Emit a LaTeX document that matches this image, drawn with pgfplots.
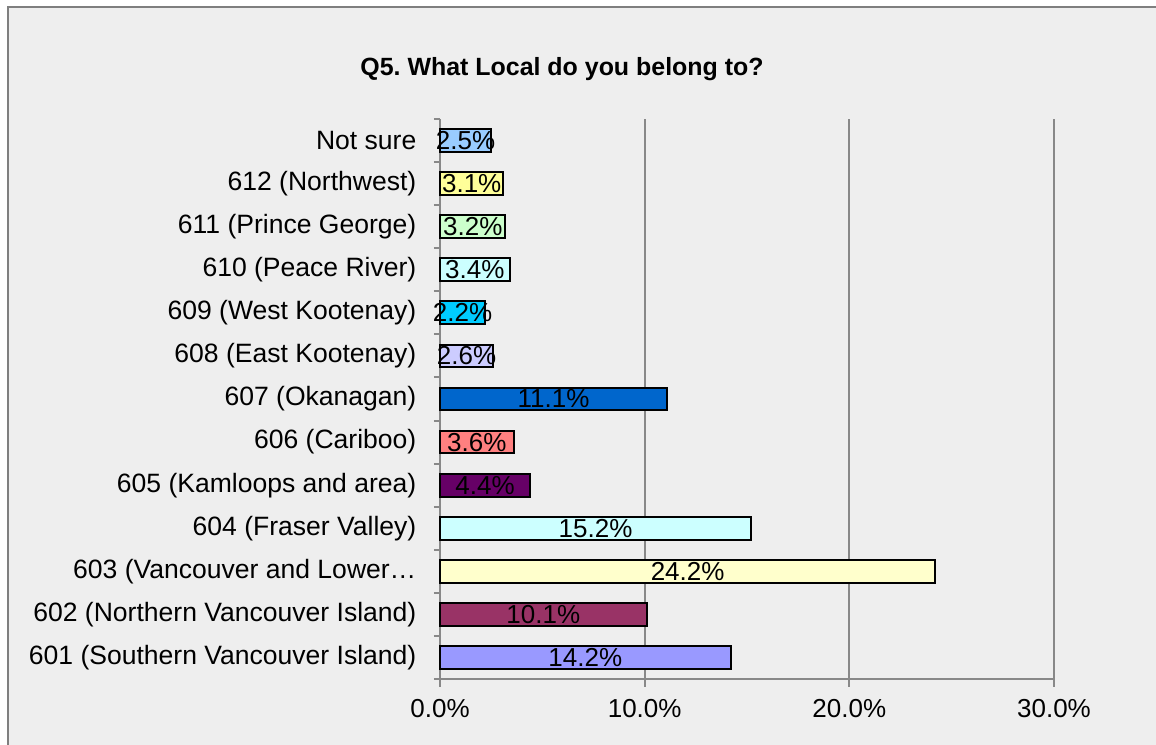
\documentclass[border=0pt]{standalone}
\usepackage{fontspec}
\setmainfont{Liberation Sans}
\usepackage{pgfplots}
\usepackage{pgfplotstable}
\pgfplotsset{compat=1.18}
\definecolor{bg}{HTML}{EEEEEE}
\definecolor{axgray}{HTML}{888888}
\definecolor{frame}{HTML}{7F7F7F}
\definecolor{c601}{HTML}{9999FF}
\definecolor{c602}{HTML}{993366}
\definecolor{c603}{HTML}{FFFFCC}
\definecolor{c604}{HTML}{CCFFFF}
\definecolor{c605}{HTML}{660066}
\definecolor{c606}{HTML}{FF8080}
\definecolor{c607}{HTML}{0066CC}
\definecolor{c608}{HTML}{CCCCFF}
\definecolor{c609}{HTML}{00CCFF}
\definecolor{c610}{HTML}{CCFFFF}
\definecolor{c611}{HTML}{CCFFCC}
\definecolor{c612}{HTML}{FFFF99}
\definecolor{cns}{HTML}{99CCFF}
\pgfplotstableread{
y v
1 14.2
2 10.1
3 24.2
4 15.2
5 4.4
6 3.6
7 11.1
8 2.6
9 2.2
10 3.4
11 3.2
12 3.1
13 2.5
}\data
\begin{document}
\frenchspacing
\begin{tikzpicture}
\useasboundingbox (0pt,0pt) rectangle (867pt,558.75pt);
\fill[white] (0pt,0pt) rectangle (867pt,558.75pt);
\draw[fill=bg, draw=frame, line width=1.5pt] (6pt,553.5pt) rectangle (880pt,-20pt);
\node[font=\bfseries\fontsize{18.7}{20}\selectfont] at (421.5pt,507pt) {Q5. What Local do you belong to?};
\begin{axis}[at={(330pt,49.5pt)}, anchor=south west, scale only axis,
  width=460.5pt, height=420pt,
  xmin=0, xmax=30, ymin=0.5, ymax=13.5,
  axis x line*=bottom, axis y line*=left,
  axis line style={axgray, line width=1.5pt, -},
  xtick={0,10,20,30}, xticklabels={0.0\%,10.0\%,20.0\%,30.0\%},
  xmajorgrids, grid style={axgray, line width=1.5pt},
  ytick={1,...,13},
  yticklabels={601 (Southern Vancouver Island),602 (Northern Vancouver Island),603 (Vancouver and Lower…,604 (Fraser Valley),605 (Kamloops and area),606 (Cariboo),607 (Okanagan),608 (East Kootenay),609 (West Kootenay),610 (Peace River),611 (Prince George),612 (Northwest),Not sure},
  minor ytick={0.5,1.5,...,13.5},
  tick align=outside,
  major tick length=6pt, minor tick length=4.5pt,
  tick style={axgray, line width=1.5pt},
  major y tick style={draw=none},
  yticklabel style={font=\fontsize{19.9}{22}\selectfont, anchor=east, xshift=-8.2pt},
  xticklabel style={font=\fontsize{19.5}{22}\selectfont, yshift=-6pt},
  clip=false,
]
\addplot[xbar, bar shift=0pt, bar width=0.53, fill=c601, draw=black, line width=1.5pt] coordinates {(14.2,1)};
\addplot[xbar, bar shift=0pt, bar width=0.53, fill=c602, draw=black, line width=1.5pt] coordinates {(10.1,2)};
\addplot[xbar, bar shift=0pt, bar width=0.53, fill=c603, draw=black, line width=1.5pt] coordinates {(24.2,3)};
\addplot[xbar, bar shift=0pt, bar width=0.53, fill=c604, draw=black, line width=1.5pt] coordinates {(15.2,4)};
\addplot[xbar, bar shift=0pt, bar width=0.53, fill=c605, draw=black, line width=1.5pt] coordinates {(4.4,5)};
\addplot[xbar, bar shift=0pt, bar width=0.53, fill=c606, draw=black, line width=1.5pt] coordinates {(3.6,6)};
\addplot[xbar, bar shift=0pt, bar width=0.53, fill=c607, draw=black, line width=1.5pt] coordinates {(11.1,7)};
\addplot[xbar, bar shift=0pt, bar width=0.53, fill=c608, draw=black, line width=1.5pt] coordinates {(2.6,8)};
\addplot[xbar, bar shift=0pt, bar width=0.53, fill=c609, draw=black, line width=1.5pt] coordinates {(2.2,9)};
\addplot[xbar, bar shift=0pt, bar width=0.53, fill=c610, draw=black, line width=1.5pt] coordinates {(3.4,10)};
\addplot[xbar, bar shift=0pt, bar width=0.53, fill=c611, draw=black, line width=1.5pt] coordinates {(3.2,11)};
\addplot[xbar, bar shift=0pt, bar width=0.53, fill=c612, draw=black, line width=1.5pt] coordinates {(3.1,12)};
\addplot[xbar, bar shift=0pt, bar width=0.53, fill=cns, draw=black, line width=1.5pt] coordinates {(2.5,13)};
\addplot[draw=none, mark=none, point meta=explicit,
  nodes near coords={\pgfmathprintnumber[fixed,fixed zerofill,precision=1,assume math mode=true]{\pgfplotspointmeta}\%},
  nodes near coords style={anchor=center, inner sep=0pt, text=black, font=\fontsize{19.5}{22}\selectfont}]
  table[x expr=\thisrow{v}/2, y=y, meta=v] {\data};
\end{axis}
\end{tikzpicture}
\end{document}
